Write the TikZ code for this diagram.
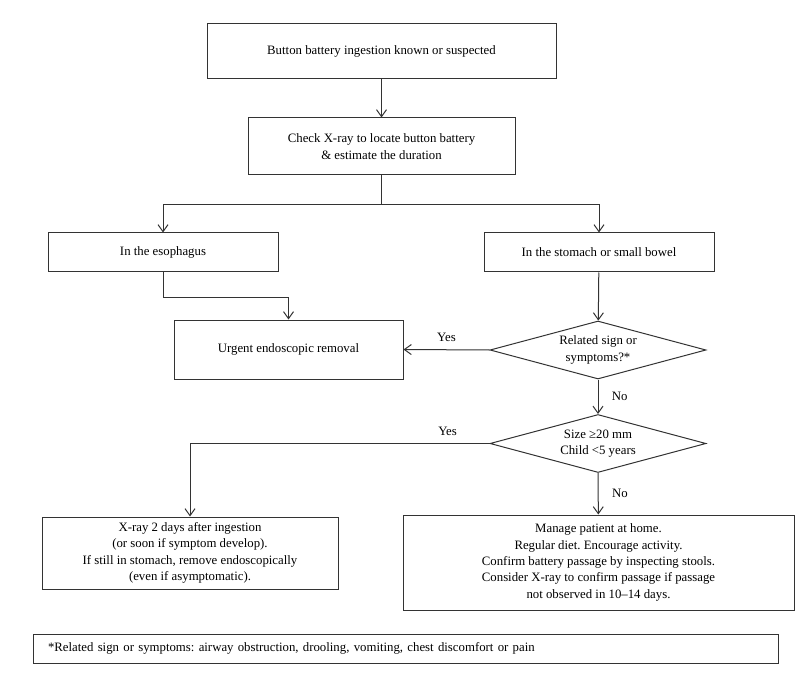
\documentclass[tikz,border=0pt]{standalone}
\usepackage{fontspec}
\setmainfont{Liberation Serif}
\usetikzlibrary{shapes.geometric,arrows.meta}
\frenchspacing
\begin{document}
\begin{tikzpicture}[x=1pt,y=-1pt,line width=1pt,draw=black!80,>={Straight Barb[length=7pt,width=10pt]},
        txt/.style={font=\fontsize{12.8}{16.3}\selectfont},
        box/.style={txt,draw=black!80,align=center},
        dia/.style={txt,draw=black!80,diamond,aspect=3.7,inner sep=0pt,minimum width=216pt,minimum height=58pt,align=center}]
        \useasboundingbox (0,0) rectangle (809,679);
        \node[box,minimum width=349pt,minimum height=55pt] (known) at (381.5,51.5) {Button battery ingestion known or suspected};
        \node[box,minimum width=267pt,minimum height=57pt] (xray) at (381.5,146.5) {Check X-ray to locate button battery\\ \& estimate the duration};
        \node[box,minimum width=230pt,minimum height=39pt] (eso) at (163,252.5) {In the esophagus};
        \node[box,minimum width=230pt,minimum height=39pt] (sto) at (599,252.5) {In the stomach or small bowel};
        \node[box,minimum width=229pt,minimum height=59pt] (urg) at (288.5,349.5) {Urgent endoscopic removal};
        \node[dia] (sym) at (598,350) {Related sign or\\ symptoms?*};
        \node[dia] (size) at (598,443.5) {Size ≥20 mm\\ Child <5 years};
        \node[box,minimum width=296pt,minimum height=72pt] (later) at (190,553) {X-ray 2 days after ingestion\\ (or soon if symptom develop).\\ If still in stomach, remove endoscopically\\ (even if asymptomatic).};
        \node[box,minimum width=391pt,minimum height=95pt] (home) at (598.5,562.5) {Manage patient at home.\\ Regular diet. Encourage activity.\\ Confirm battery passage by inspecting stools.\\ Consider X-ray to confirm passage if passage\\ not observed in 10–14 days.};
        \node[txt,draw=black!80,minimum height=29pt,text width=715pt,inner xsep=15pt,align=left] (note) at (405.5,648.5) {*Related sign or symptoms: airway obstruction, drooling, vomiting, chest discomfort or pain};
        \coordinate (split) at (381.5,205);
        \draw[->] (known) -- (xray);
        \draw (xray) -- (split);
        \draw[->] (split) -| (eso.north);
        \draw[->] (split) -| (sto.north);
        \draw[->] (eso.south) -- ++(0,25) -| (urg.north);
        \draw[->] (sto) -- (sym);
        \draw[->] (sym.west) -- (urg.east)node[txt,midway,above=4pt]{Yes};
        \draw[->] (sym) -- (size)node[txt,midway,right=10pt]{No};
        \draw[->] (size.west) -| (later.north)node[txt,pos=.07,above=4pt]{Yes};
        \draw[->] (size) -- (home)node[txt,midway,right=10pt]{No};
        \end{tikzpicture}
\end{document}
